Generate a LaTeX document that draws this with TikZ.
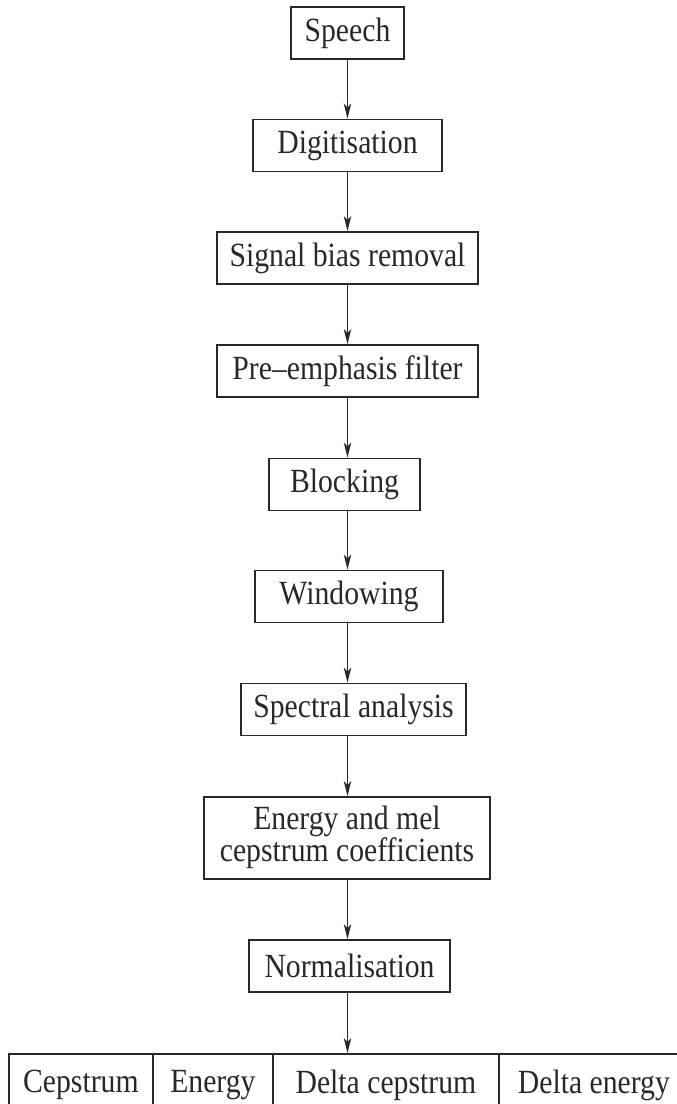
\documentclass[tikz,border=0pt]{standalone}
\usepackage{fontspec}
\setmainfont{Liberation Serif}
\usetikzlibrary{arrows.meta}
\definecolor{ink}{RGB}{40,40,40}
\newcommand{\tallt}[1]{\scalebox{1}[1.14]{#1}}
\begin{document}
\begin{tikzpicture}[x=1pt,y=-1pt,
  box/.style={draw=ink, line width=1.8pt, text=ink, inner sep=0pt, minimum height=52pt,
    font=\fontsize{29.7}{24}\selectfont, align=center},
  cell/.style={draw=ink, line width=1.8pt, text=ink, inner sep=0pt, minimum height=62pt,
    font=\fontsize{29.7}{24}\selectfont, anchor=north west},
  arr/.style={draw=ink, line width=1.6pt, -{Stealth[length=15pt,width=7.5pt,inset=4pt]}}]
\useasboundingbox (0,0) rectangle (677,1104);
\clip (0,0) rectangle (677,1104);
\fill[white] (0,0) rectangle (677,1104);
\coordinate (axis) at (347.5,0);
\node[box, minimum width=113pt] (speech) at (347.5,33) {\tallt{Speech}};
\node[box, minimum width=189pt] (digit) at (347.5,145.5) {\tallt{Digitisation}};
\node[box, minimum width=261pt] (bias) at (347.5,258) {\tallt{Signal bias removal}};
\node[box, minimum width=261pt] (pre) at (347.5,371) {\tallt{Pre--emphasis filter}};
\node[box, minimum width=151pt] (block) at (344.5,484.5) {\tallt{Blocking}};
\node[box, minimum width=188pt] (window) at (349,596.5) {\tallt{Windowing}};
\node[box, minimum width=225pt] (spec) at (353.5,709.5) {\tallt{Spectral analysis}};
\node[box, minimum width=286pt, minimum height=82pt] (energy) at (347,838) {\tallt{\begin{tabular}{@{}c@{}}Energy and mel\\cepstrum coefficients\end{tabular}}};
\node[box, minimum width=201pt] (norm) at (349.5,966) {\tallt{Normalisation}};
\node[cell, minimum width=144pt] (c1) at (8,1053) {\tallt{Cepstrum}};
\node[cell, minimum width=120pt] (c2) at (152,1053) {\tallt{Energy}};
\node[cell, minimum width=226pt] (c3) at (272,1053) {\tallt{Delta cepstrum}};
\node[cell, minimum width=190pt] (c4) at (498,1053) {\tallt{Delta energy}};
\draw[arr] (speech.south -| axis) -- (digit.north -| axis);
\draw[arr] (digit.south -| axis) -- (bias.north -| axis);
\draw[arr] (bias.south -| axis) -- (pre.north -| axis);
\draw[arr] (pre.south -| axis) -- (block.north -| axis);
\draw[arr] (block.south -| axis) -- (window.north -| axis);
\draw[arr] (window.south -| axis) -- (spec.north -| axis);
\draw[arr] (spec.south -| axis) -- (energy.north -| axis);
\draw[arr] (energy.south -| axis) -- (norm.north -| axis);
\draw[arr] (norm.south -| axis) -- (c3.north -| axis);
\end{tikzpicture}
\end{document}
